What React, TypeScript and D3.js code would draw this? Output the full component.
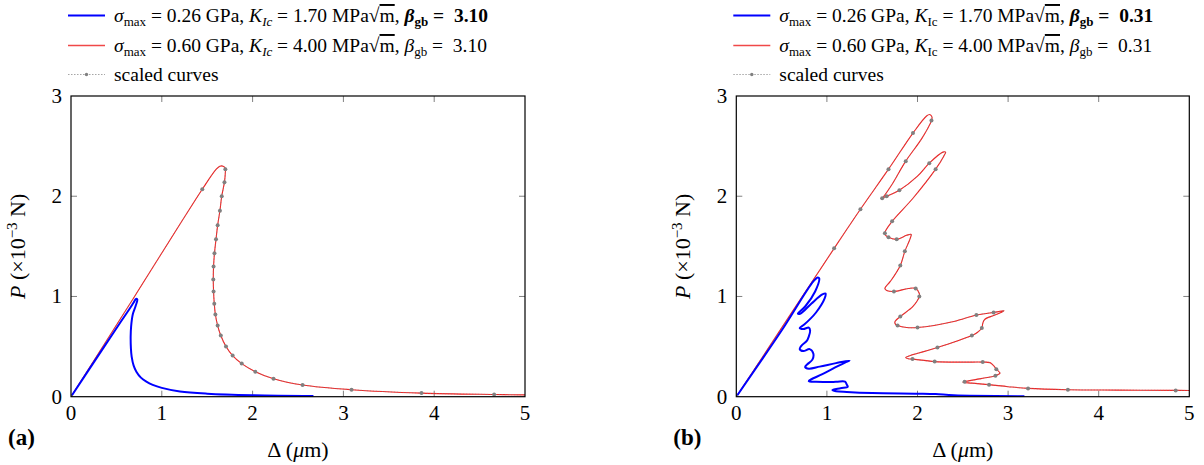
import React from "react";
import * as d3 from "d3";

type Pt = [number, number];

const xTicks = [0, 1, 2, 3, 4, 5];
const yTicks = [0, 1, 2, 3];

// Panel (a): beta_gb = 3.10
const panelABlue: Pt[] = [
  [0, 0], [0.3, 0.41], [0.55, 0.75], [0.64, 0.87], [0.69, 0.94], [0.715, 0.975], [0.73, 0.97],
  [0.71, 0.9], [0.68, 0.82], [0.662, 0.7], [0.657, 0.6], [0.66, 0.48], [0.668, 0.4],
  [0.69, 0.31], [0.72, 0.25], [0.77, 0.19], [0.83, 0.15], [0.9, 0.118], [1.0, 0.088],
  [1.2, 0.052], [1.5, 0.03], [2.0, 0.014], [2.67, 0.006],
];
const panelARed: Pt[] = [
  [0, 0], [0.7, 1.0], [1.446, 2.07], [1.6, 2.27], [1.64, 2.3], [1.675, 2.3], [1.7, 2.28],
  [1.7, 2.24], [1.69, 2.14], [1.66, 2.0], [1.64, 1.855], [1.615, 1.71], [1.597, 1.57],
  [1.58, 1.43], [1.57, 1.3], [1.567, 1.17], [1.57, 1.05], [1.578, 0.927], [1.59, 0.82],
  [1.615, 0.71], [1.65, 0.61], [1.707, 0.5], [1.78, 0.41], [1.88, 0.33], [2.03, 0.25],
  [2.23, 0.18], [2.55, 0.117], [3.09, 0.07], [3.86, 0.036], [4.66, 0.022], [5.0, 0.018],
];
const panelAMarks: Pt[] = [
  [0, 0], [1.446, 2.07], [1.7, 2.27], [1.69, 2.14], [1.66, 2.0], [1.64, 1.855], [1.615, 1.71],
  [1.597, 1.57], [1.58, 1.43], [1.57, 1.3], [1.567, 1.17], [1.57, 1.05], [1.578, 0.927],
  [1.59, 0.82], [1.615, 0.71], [1.65, 0.61], [1.707, 0.5], [1.78, 0.41], [1.88, 0.33],
  [2.03, 0.25], [2.23, 0.18], [2.55, 0.117], [3.09, 0.07], [3.86, 0.036], [4.66, 0.022],
];

// Panel (b): beta_gb = 0.31
const panelBBlue: Pt[] = [
  [0, 0], [0.5, 0.66], [0.85, 1.15], [0.9, 1.19], [0.915, 1.18], [0.87, 1.05], [0.76, 0.9],
  [0.68, 0.83], [0.71, 0.83], [0.83, 0.93], [0.95, 1.02], [0.985, 1.03], [0.975, 0.98],
  [0.88, 0.84], [0.75, 0.72], [0.7, 0.685], [0.74, 0.675], [0.8, 0.69], [0.815, 0.66],
  [0.8, 0.6], [0.78, 0.56], [0.72, 0.51], [0.7, 0.475], [0.74, 0.455], [0.81, 0.475],
  [0.85, 0.43], [0.84, 0.37], [0.78, 0.32], [0.76, 0.295], [0.8, 0.28], [0.92, 0.3],
  [1.1, 0.335], [1.25, 0.36], [1.2, 0.34], [1.12, 0.305], [0.95, 0.225], [0.82, 0.17],
  [0.8, 0.155], [0.88, 0.148], [1.1, 0.148], [1.2, 0.15], [1.22, 0.12], [1.23, 0.1],
  [1.15, 0.085], [1.06, 0.066], [1.1, 0.055], [1.22, 0.047], [1.5, 0.036], [2.0, 0.03],
  [2.2, 0.026], [2.4, 0.014], [3.18, 0.005],
];
const panelBRed: Pt[] = [
  [0, 0], [1.08, 1.48], [1.37, 1.87], [1.68, 2.27], [1.95, 2.63], [2.1, 2.8], [2.135, 2.815],
  [2.16, 2.79], [2.154, 2.755], [2.05, 2.58], [1.87, 2.35], [1.72, 2.12], [1.62, 1.99],
  [1.61, 1.98], [1.66, 2.0], [1.8, 2.06], [2.0, 2.2], [2.13, 2.33], [2.28, 2.44], [2.31, 2.44],
  [2.29, 2.4], [2.2, 2.27], [1.95, 1.98], [1.72, 1.75], [1.64, 1.64], [1.64, 1.62],
  [1.68, 1.59], [1.77, 1.57], [1.88, 1.61], [1.93, 1.62], [1.92, 1.58], [1.86, 1.45],
  [1.81, 1.31], [1.7, 1.15], [1.64, 1.08], [1.66, 1.06], [1.74, 1.05], [1.9, 1.08],
  [1.98, 1.08], [2.02, 1.03], [2.02, 1.0], [1.95, 0.9], [1.81, 0.8], [1.75, 0.745],
  [1.76, 0.72], [1.78, 0.71], [1.88, 0.69], [2.0, 0.69], [2.4, 0.75], [2.65, 0.815],
  [2.84, 0.84], [2.955, 0.857], [2.92, 0.84], [2.84, 0.81], [2.74, 0.77], [2.72, 0.73],
  [2.71, 0.685], [2.66, 0.64], [2.6, 0.61], [2.22, 0.49], [1.87, 0.39], [1.9, 0.378],
  [1.945, 0.375], [2.19, 0.35], [2.5, 0.345], [2.72, 0.345], [2.8, 0.34], [2.84, 0.31],
  [2.87, 0.275], [2.91, 0.235], [2.86, 0.21], [2.7, 0.18], [2.52, 0.15], [2.5, 0.145],
  [2.6, 0.135], [2.79, 0.12], [3.0, 0.1], [3.22, 0.083], [3.66, 0.07], [4.2, 0.066],
  [4.85, 0.063], [5.0, 0.062],
];
const panelBMarks: Pt[] = [
  [0, 0], [1.08, 1.48], [1.37, 1.87], [1.68, 2.27], [1.95, 2.63], [2.154, 2.755], [1.87, 2.35],
  [1.61, 1.98], [1.66, 2.0], [1.8, 2.06], [2.13, 2.33], [2.2, 2.27], [1.72, 1.75], [1.64, 1.63],
  [1.68, 1.59], [1.77, 1.57], [1.86, 1.45], [1.81, 1.31], [1.74, 1.05], [1.98, 1.08],
  [2.02, 1.0], [1.81, 0.8], [1.78, 0.71], [2.0, 0.69], [2.65, 0.815], [2.84, 0.84],
  [2.71, 0.685], [2.6, 0.61], [2.22, 0.49], [1.945, 0.375], [2.19, 0.35], [2.72, 0.345],
  [2.87, 0.275], [2.86, 0.21], [2.52, 0.15], [2.79, 0.12], [3.22, 0.083], [3.66, 0.07],
  [4.85, 0.063],
];

const FONT = "Liberation Serif";
const RED = "#ff1a1a";
const LEGRED = "#f04848";
const BLUE = "#0000ff";
const GRAY = "#808080";

const yScale = d3.scaleLinear().domain([0, 3]).range([396.7, 96]);

type PanelProps = {
  x0: number;
  x1: number;
  blue: Pt[];
  red: Pt[];
  marks: Pt[];
  label: string;
  beta: string;
  icItalic: boolean;
};

function Legend({ lx, tx, beta, icItalic }: { lx: number; tx: number; beta: string; icItalic: boolean }) {
  const fs = 19.5;
  const sub = 13;
  const row = (y: number, sigma: string, k: string, bold: boolean) => (
    <text x={tx} y={y + 6.5} fontSize={fs} fontFamily={FONT} style={{ whiteSpace: "pre" }} fill="#000">
      <tspan fontStyle="italic">σ</tspan>
      <tspan fontSize={sub} dy={3.5}>max</tspan>
      <tspan dy={-3.5}>{` = ${sigma} GPa, `}</tspan>
      <tspan fontStyle="italic">K</tspan>
      <tspan fontSize={sub} dy={3.5} fontStyle={icItalic ? "italic" : "normal"}>Ic</tspan>
      <tspan dy={-3.5}>{` = ${k} MPa√`}</tspan>
      <tspan style={{ textDecoration: "overline" }}>m</tspan>
      <tspan>, </tspan>
      <tspan fontStyle="italic" fontWeight={bold ? "bold" : "normal"}>β</tspan>
      <tspan fontSize={sub} dy={3.5} fontWeight={bold ? "bold" : "normal"}>gb</tspan>
      <tspan dy={-3.5} fontWeight={bold ? "bold" : "normal"}>{` =  ${beta}`}</tspan>
    </text>
  );
  return (
    <g>
      <line x1={lx} x2={lx + 37} y1={15.5} y2={15.5} stroke={BLUE} strokeWidth={2} />
      {row(15.5, "0.26", "1.70", true)}
      <line x1={lx} x2={lx + 37} y1={45.5} y2={45.5} stroke={LEGRED} strokeWidth={1.4} />
      {row(45.5, "0.60", "4.00", false)}
      <line x1={lx} x2={lx + 37} y1={74.5} y2={74.5} stroke={GRAY} strokeWidth={0.7} strokeDasharray="1.5,1.5" />
      <circle cx={lx + 18.5} cy={74.5} r={1.7} fill={GRAY} />
      <text x={tx} y={81} fontSize={fs} fontFamily={FONT} fill="#000">scaled curves</text>
    </g>
  );
}

function Panel({ x0, x1, blue, red, marks, label, beta, icItalic }: PanelProps) {
  const xScale = d3.scaleLinear().domain([0, 5]).range([x0, x1]);
  const line = d3
    .line<Pt>()
    .x((d) => xScale(d[0]))
    .y((d) => yScale(d[1]))
    .curve(d3.curveCatmullRom.alpha(0.5));
  const top = yScale(3);
  const bot = yScale(0);
  const midY = (top + bot) / 2;
  const midX = (x0 + x1) / 2;
  return (
    <g>
      <defs>
        <clipPath id={`clip-${label}`}>
          <rect x={x0} y={top} width={x1 - x0} height={bot - top} />
        </clipPath>
      </defs>
      {xTicks.slice(1, -1).map((t) => (
        <g key={`xt${t}`}>
          <line x1={xScale(t)} x2={xScale(t)} y1={bot} y2={bot - 6} stroke={GRAY} strokeWidth={1} />
          <line x1={xScale(t)} x2={xScale(t)} y1={top} y2={top + 6} stroke={GRAY} strokeWidth={1} />
        </g>
      ))}
      {yTicks.slice(1, -1).map((t) => (
        <g key={`yt${t}`}>
          <line x1={x0} x2={x0 + 6} y1={yScale(t)} y2={yScale(t)} stroke={GRAY} strokeWidth={1} />
          <line x1={x1} x2={x1 - 6} y1={yScale(t)} y2={yScale(t)} stroke={GRAY} strokeWidth={1} />
        </g>
      ))}
      <g clipPath={`url(#clip-${label})`}>
        <path d={line(red) || ""} fill="none" stroke={RED} strokeWidth={1.1} />
        <path d={line(red) || ""} fill="none" stroke={GRAY} strokeWidth={0.6} strokeDasharray="1.5,1.5" />
        <path d={line(blue) || ""} fill="none" stroke={BLUE} strokeWidth={2} strokeLinejoin="round" />
        {marks.map((m, i) => (
          <circle key={i} cx={xScale(m[0])} cy={yScale(m[1])} r={2} fill={GRAY} />
        ))}
      </g>
      <rect x={x0} y={top} width={x1 - x0} height={bot - top} fill="none" stroke="#000" strokeWidth={1.2} />
      {xTicks.map((t) => (
        <text key={`xl${t}`} x={xScale(t)} y={bot + 23} fontSize={21} fontFamily={FONT} textAnchor="middle">
          {t}
        </text>
      ))}
      {yTicks.map((t) => (
        <text key={`yl${t}`} x={x0 - 9} y={yScale(t) + 7} fontSize={21} fontFamily={FONT} textAnchor="end">
          {t}
        </text>
      ))}
      <text x={midX} y={bot + 60} fontSize={22} fontFamily={FONT} textAnchor="middle" style={{ whiteSpace: "pre" }}>
        <tspan>Δ (</tspan>
        <tspan fontStyle="italic">μ</tspan>
        <tspan>m)</tspan>
      </text>
      <text
        transform={`translate(${x0 - 46},${midY}) rotate(-90)`}
        fontSize={22}
        fontFamily={FONT}
        textAnchor="middle"
        style={{ whiteSpace: "pre" }}
      >
        <tspan fontStyle="italic">P</tspan>
        <tspan> (×10</tspan>
        <tspan fontSize={15} dy={-8}>−3</tspan>
        <tspan dy={8}> N)</tspan>
      </text>
      <text x={x0 - 63} y={bot + 48} fontSize={23} fontWeight="bold" fontFamily={FONT}>
        ({label})
      </text>
      <Legend lx={x0 - 3} tx={x0 + 43} beta={beta} icItalic={icItalic} />
    </g>
  );
}

export default function App() {
  return (
    <svg
      width={1204}
      height={465}
      viewBox="0 0 1204 465"
      style={{ position: "absolute", left: 0, top: 0, background: "#fff" }}
    >
      <rect width={1204} height={465} fill="#fff" />
      <Panel x0={71} x1={525} blue={panelABlue} red={panelARed} marks={panelAMarks} label="a" beta="3.10" icItalic={true} />
      <Panel x0={736.3} x1={1189.3} blue={panelBBlue} red={panelBRed} marks={panelBMarks} label="b" beta="0.31" icItalic={false} />
    </svg>
  );
}
